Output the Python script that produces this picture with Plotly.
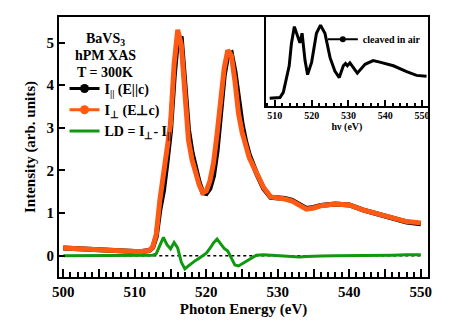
import plotly.graph_objects as go

# main spectra (eV, arb. units)
energy = [500, 502, 504, 506, 508, 510, 511, 512, 512.5, 513, 513.5, 514, 514.5,
          515, 515.5, 516, 516.5, 517, 517.5, 518, 518.5, 519, 519.5, 520, 520.5,
          521, 521.5, 522, 522.5, 523, 523.5, 524, 524.5, 525, 525.5, 526, 527,
          528, 529, 530, 531, 532, 533, 534, 535, 536, 538, 540, 542, 544, 546,
          548, 550]
i_perp = [0.18, 0.16, 0.14, 0.12, 0.11, 0.10, 0.10, 0.12, 0.20, 0.50, 1.30, 1.95,
          2.45, 3.10, 4.50, 5.30, 4.95, 3.60, 2.72, 2.25, 1.90, 1.66, 1.48, 1.52,
          1.75, 2.17, 2.85, 3.75, 4.40, 4.82, 4.70, 4.10, 3.34, 2.90, 2.55, 2.30,
          1.95, 1.60, 1.38, 1.36, 1.33, 1.28, 1.17, 1.09, 1.12, 1.17, 1.21, 1.19,
          1.07, 0.97, 0.87, 0.80, 0.77]
i_par = [0.18, 0.16, 0.14, 0.12, 0.11, 0.10, 0.10, 0.12, 0.19, 0.45, 1.08, 1.52,
         2.19, 2.94, 4.19, 5.12, 5.10, 3.91, 2.96, 2.42, 2.01, 1.72, 1.48, 1.46,
         1.58, 1.87, 2.46, 3.48, 4.23, 4.71, 4.75, 4.32, 3.58, 3.09, 2.68, 2.37,
         1.94, 1.58, 1.37, 1.36, 1.34, 1.30, 1.20, 1.11, 1.13, 1.18, 1.21, 1.19,
         1.07, 0.97, 0.87, 0.79, 0.75]
ld = [0.0, 0.0, 0.0, 0.0, 0.0, 0.0, 0.0, 0.0, 0.01, 0.05, 0.22, 0.43, 0.26, 0.16,
      0.31, 0.18, -0.15, -0.31, -0.24, -0.17, -0.11, -0.06, 0.0, 0.06, 0.17, 0.30,
      0.39, 0.27, 0.17, 0.11, -0.05, -0.22, -0.24, -0.19, -0.13, -0.07, 0.01,
      0.02, 0.01, 0.0, -0.01, -0.02, -0.03, -0.02, -0.01, -0.01, 0.0, 0.0, 0.0,
      0.01, 0.01, 0.02, 0.02]

# x ticks every 5 eV, labelled every 10 eV
x_tickvals = [500, 505, 510, 515, 520, 525, 530, 535, 540, 545, 550]
x_ticktext = ["500", "", "510", "", "520", "", "530", "", "540", "", "550"]

# inset: sample cleaved in air
inset_e = [508.6, 510, 511.4, 512.3, 513.2, 513.9, 514.5, 515.3, 516.8, 517.4,
           518.2, 518.9, 520.0, 521.3, 522.4, 523.6, 525.0, 526.3, 527.5, 528.6,
           529.2, 529.7, 530.4, 531.3, 532.4, 534.5, 536.7, 538.5, 542.2, 545.8,
           548.5, 551.2]
inset_i = [0.01, 0.01, 0.02, 0.09, 0.30, 0.45, 0.75, 0.98, 0.76, 0.89, 0.52, 0.33,
           0.50, 0.89, 1.00, 0.89, 0.56, 0.38, 0.29, 0.45, 0.48, 0.45, 0.49, 0.42,
           0.35, 0.47, 0.52, 0.50, 0.45, 0.37, 0.32, 0.31]

BLACK = "#000000"
ORANGE = "#ff5a14"
GREEN = "#109910"
FONT = "Liberation Serif"

fig = go.Figure()

fig.add_trace(go.Scatter(x=energy, y=i_par, mode="lines", showlegend=False,
                         line=dict(color=BLACK, width=5)))
fig.add_trace(go.Scatter(x=energy, y=i_perp, mode="lines", showlegend=False,
                         line=dict(color=ORANGE, width=5)))
fig.add_trace(go.Scatter(x=energy, y=ld, mode="lines", showlegend=False,
                         line=dict(color=GREEN, width=3)))

# legend entries (line + dot, as in the original)
fig.add_trace(go.Scatter(x=[None], y=[None], mode="lines+markers",
                         name="<b>I<sub>||</sub> (E||c)</b>",
                         line=dict(color=BLACK, width=3), marker=dict(size=9)))
fig.add_trace(go.Scatter(x=[None], y=[None], mode="lines+markers",
                         name="<b>I<sub>⊥</sub> (E⊥c)</b>",
                         line=dict(color=ORANGE, width=3), marker=dict(size=9)))
fig.add_trace(go.Scatter(x=[None], y=[None], mode="lines",
                         name="<b>LD = I<sub>⊥</sub>- I<sub>||</sub></b>&nbsp;&nbsp;",
                         line=dict(color=GREEN, width=3)))

# inset
fig.add_trace(go.Scatter(x=inset_e, y=inset_i, mode="lines", showlegend=False,
                         xaxis="x2", yaxis="y2",
                         line=dict(color=BLACK, width=3)))
fig.add_trace(go.Scatter(x=[None], y=[None], mode="lines+markers",
                         name="<b>cleaved in air</b>&nbsp;", legend="legend2",
                         xaxis="x2", yaxis="y2",
                         line=dict(color=BLACK, width=2), marker=dict(size=6)))

# dotted zero reference
fig.add_shape(type="line", xref="x", yref="y", x0=energy[0], x1=energy[-1],
              y0=0, y1=0, line=dict(color=BLACK, width=1.5, dash="dot"), layer="below")

for i, txt in enumerate(["BaVS<sub>3</sub>", "hPM XAS", "T = 300K"]):
    fig.add_annotation(x=0.125, y=0.915 - i * 0.064, xref="paper", yref="paper",
                       xanchor="center", yanchor="middle",
                       text="<b>%s</b>" % txt, showarrow=False,
                       font=dict(family=FONT, size=14, color=BLACK))

axis_common = dict(showline=True, linecolor=BLACK, linewidth=2, mirror=True,
                   showgrid=False, zeroline=False, ticks="inside",
                   tickcolor=BLACK, tickwidth=1.5)

fig.update_layout(
    width=463, height=331,
    margin=dict(l=59, r=35, t=17, b=54),
    paper_bgcolor="white", plot_bgcolor="white",
    font=dict(family=FONT, size=15, color=BLACK),
    xaxis=dict(**axis_common, domain=[0, 1], range=[499.4, 551],
               tickvals=x_tickvals, ticktext=x_ticktext, ticklen=8,
               minor=dict(dtick=1, ticklen=5, ticks="inside", tickcolor=BLACK, tickwidth=1.5),
               tickfont=dict(family=FONT, size=15, weight="bold"),
               title=dict(text="<b>Photon Energy (eV)</b>", standoff=4,
                          font=dict(family=FONT, size=15))),
    yaxis=dict(**axis_common, domain=[0, 1], range=[-0.5, 5.6],
               tickvals=[0, 1, 2, 3, 4, 5], ticklen=6,
               tickfont=dict(family=FONT, size=15, weight="bold"),
               title=dict(text="<b>Intensity (arb. units)</b>", standoff=7,
                          font=dict(family=FONT, size=15))),
    xaxis2=dict(**axis_common, domain=[0.561, 1.0], anchor="y2", range=[507.6, 551.6],
                tickvals=[510, 520, 530, 540, 550], ticklen=6, ticklabelstandoff=-1,
                minor=dict(dtick=2, ticklen=3, ticks="inside", tickcolor=BLACK, tickwidth=1.5),
                tickfont=dict(family=FONT, size=10, weight="bold"),
                title=dict(text="<b>hν (eV)</b>", standoff=0,
                           font=dict(family=FONT, size=10))),
    yaxis2=dict(showline=True, linecolor=BLACK, linewidth=2, mirror=True,
                showgrid=False, zeroline=False, showticklabels=False, ticks="",
                domain=[0.658, 1.0], anchor="x2", range=[-0.093, 1.11]),
    legend=dict(x=0.015, y=0.785, xanchor="left", yanchor="top",
                bgcolor="rgba(0,0,0,0)", tracegroupgap=0,
                font=dict(family=FONT, size=14)),
    legend2=dict(x=0.715, y=0.97, xanchor="left", yanchor="top",
                 bgcolor="rgba(0,0,0,0)",
                 font=dict(family=FONT, size=10)),
)

fig.write_html("out.html", config={"displayModeBar": False},
               post_script="document.body.style.margin='0';"
                           "document.body.style.overflow='hidden';")
